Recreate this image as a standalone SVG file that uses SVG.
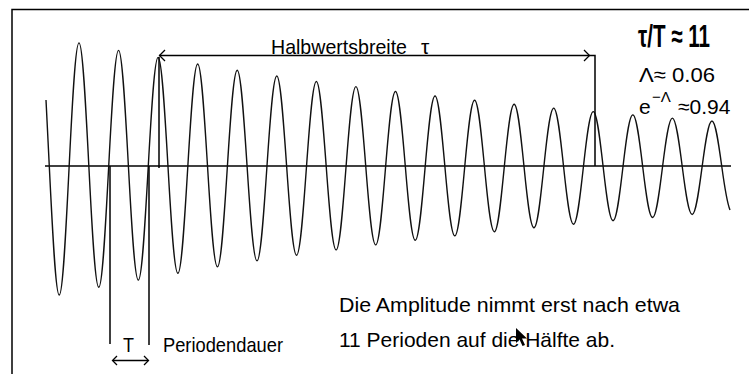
<svg xmlns="http://www.w3.org/2000/svg" width="749" height="374" viewBox="0 0 749 374">
<style>
.ln{stroke:#000;fill:none;stroke-width:1.5}
.wave{stroke:#111;fill:none;stroke-width:1.4;stroke-linejoin:round}
.ah{stroke:#000;fill:none;stroke-width:1.3}
.t{font-family:"Liberation Sans",Arial,sans-serif;font-size:21px;fill:#000}
.b{font-family:"Liberation Sans",Arial,sans-serif;font-size:31px;font-weight:bold;fill:#000}
</style>
<rect width="749" height="374" fill="#fff"/>
<g id="frame">
<path class="ln" d="M12,374 V9.5 H749" stroke-width="2.5"/>
</g>
<g id="axis">
<path class="ln" d="M45,166 H731"/>
</g>
<g id="wave">
<path class="wave" d="M46,100 L49.33,167 C52.56,232.6 55.64,295 59.22,295
S65.88,232.6 69.11,167 S75.42,42.9 79,42.9
S85.66,103.4 88.89,167 S95.2,287.3 98.78,287.3
S105.44,228.6 108.67,167 S114.98,50.4 118.56,50.4
S125.22,107.3 128.45,167 S134.76,280.1 138.34,280.1
S145,224.9 148.23,167 S154.54,57.4 158.12,57.4
S164.78,110.8 168.01,167 S174.32,273.3 177.9,273.3
S184.56,221.4 187.79,167 S194.1,64 197.68,64
S204.34,114.2 207.57,167 S213.88,266.9 217.46,266.9
S224.12,218.2 227.35,167 S233.66,70.2 237.24,70.2
S243.9,117.4 247.13,167 S253.44,260.9 257.02,260.9
S263.68,215.1 266.91,167 S273.22,76 276.8,76
S283.46,120.4 286.69,167 S293,255.2 296.58,255.2
S303.24,212.2 306.47,167 S312.78,81.5 316.36,81.5
S323.02,123.2 326.25,167 S332.56,249.9 336.14,249.9
S342.8,209.5 346.03,167 S352.34,86.6 355.92,86.6
S362.58,125.8 365.81,167 S372.12,244.9 375.7,244.9
S382.36,206.9 385.59,167 S391.9,91.5 395.48,91.5
S402.14,128.3 405.37,167 S411.68,240.3 415.26,240.3
S421.92,204.5 425.15,167 S431.46,96 435.04,96
S441.7,130.6 444.93,167 S451.24,235.8 454.82,235.8
S461.48,202.3 464.71,167 S471.02,100.3 474.6,100.3
S481.26,132.8 484.49,167 S490.8,231.7 494.38,231.7
S501.04,200.1 504.27,167 S510.58,104.3 514.16,104.3
S520.82,134.9 524.05,167 S530.36,227.8 533.94,227.8
S540.6,198.2 543.83,167 S550.14,108.1 553.72,108.1
S560.38,136.8 563.61,167 S569.92,224.2 573.5,224.2
S580.16,196.3 583.39,167 S589.7,111.6 593.28,111.6
S599.94,138.6 603.17,167 S609.48,220.7 613.06,220.7
S619.72,194.5 622.95,167 S629.26,114.9 632.84,114.9
S639.5,140.3 642.73,167 S649.04,217.5 652.62,217.5
S659.28,192.9 662.51,167 S668.82,118.1 672.4,118.1
S679.06,141.9 682.29,167 S688.6,214.5 692.18,214.5
S698.84,191.3 702.07,167 S708.38,121 711.96,121
S718.62,143.4 721.85,167 C725.08,190.6 727.5,204 730,210"/>
</g>
<g id="connectors">
<path class="ln" d="M159,57 V168"/>
<path class="ln" d="M159,55.5 H595 V166"/>
<path class="ah" d="M165,50 L159.5,55.5 L165,61"/>
<path class="ah" d="M584,50 L589.5,55.5 L584,61"/>
<path class="ln" d="M110,166 V344"/>
<path class="ln" d="M149,166 V345"/>
<path class="ln" d="M113,360.5 H148"/>
<path class="ah" d="M117,356 L112.5,360.5 L117,365"/>
<path class="ah" d="M144,356 L148.5,360.5 L144,365"/>
</g>
<g id="labels">
<text class="t" x="271" y="54" textLength="136" lengthAdjust="spacingAndGlyphs">Halbwertsbreite</text>
<text class="t" x="421" y="54" font-size="17">τ</text>
<text class="b" x="638" y="47" textLength="72" lengthAdjust="spacingAndGlyphs">τ/T ≈ 11</text>
<text class="t" x="639" y="82" textLength="76" lengthAdjust="spacingAndGlyphs">Λ≈ 0.06</text>
<text class="t" x="639" y="114">e<tspan x="652" y="102" font-size="15">−Λ</tspan><tspan x="678" y="114">≈0.94</tspan></text>
<text class="t" x="123" y="352" textLength="11" lengthAdjust="spacingAndGlyphs">T</text>
<text class="t" x="163" y="352" textLength="120" lengthAdjust="spacingAndGlyphs">Periodendauer</text>
<text class="t" x="339" y="312" textLength="341" lengthAdjust="spacingAndGlyphs">Die Amplitude nimmt erst nach etwa</text>
<text class="t" x="339" y="347" textLength="276" lengthAdjust="spacingAndGlyphs">11 Perioden auf die Hälfte ab.</text>
</g>
<g id="cursor">
<path d="M516,328 V343 L519.5,339.5 L522.5,346 L525,345 L522,338.5 L527,338.5 Z" fill="#000"/>
</g>
</svg>
